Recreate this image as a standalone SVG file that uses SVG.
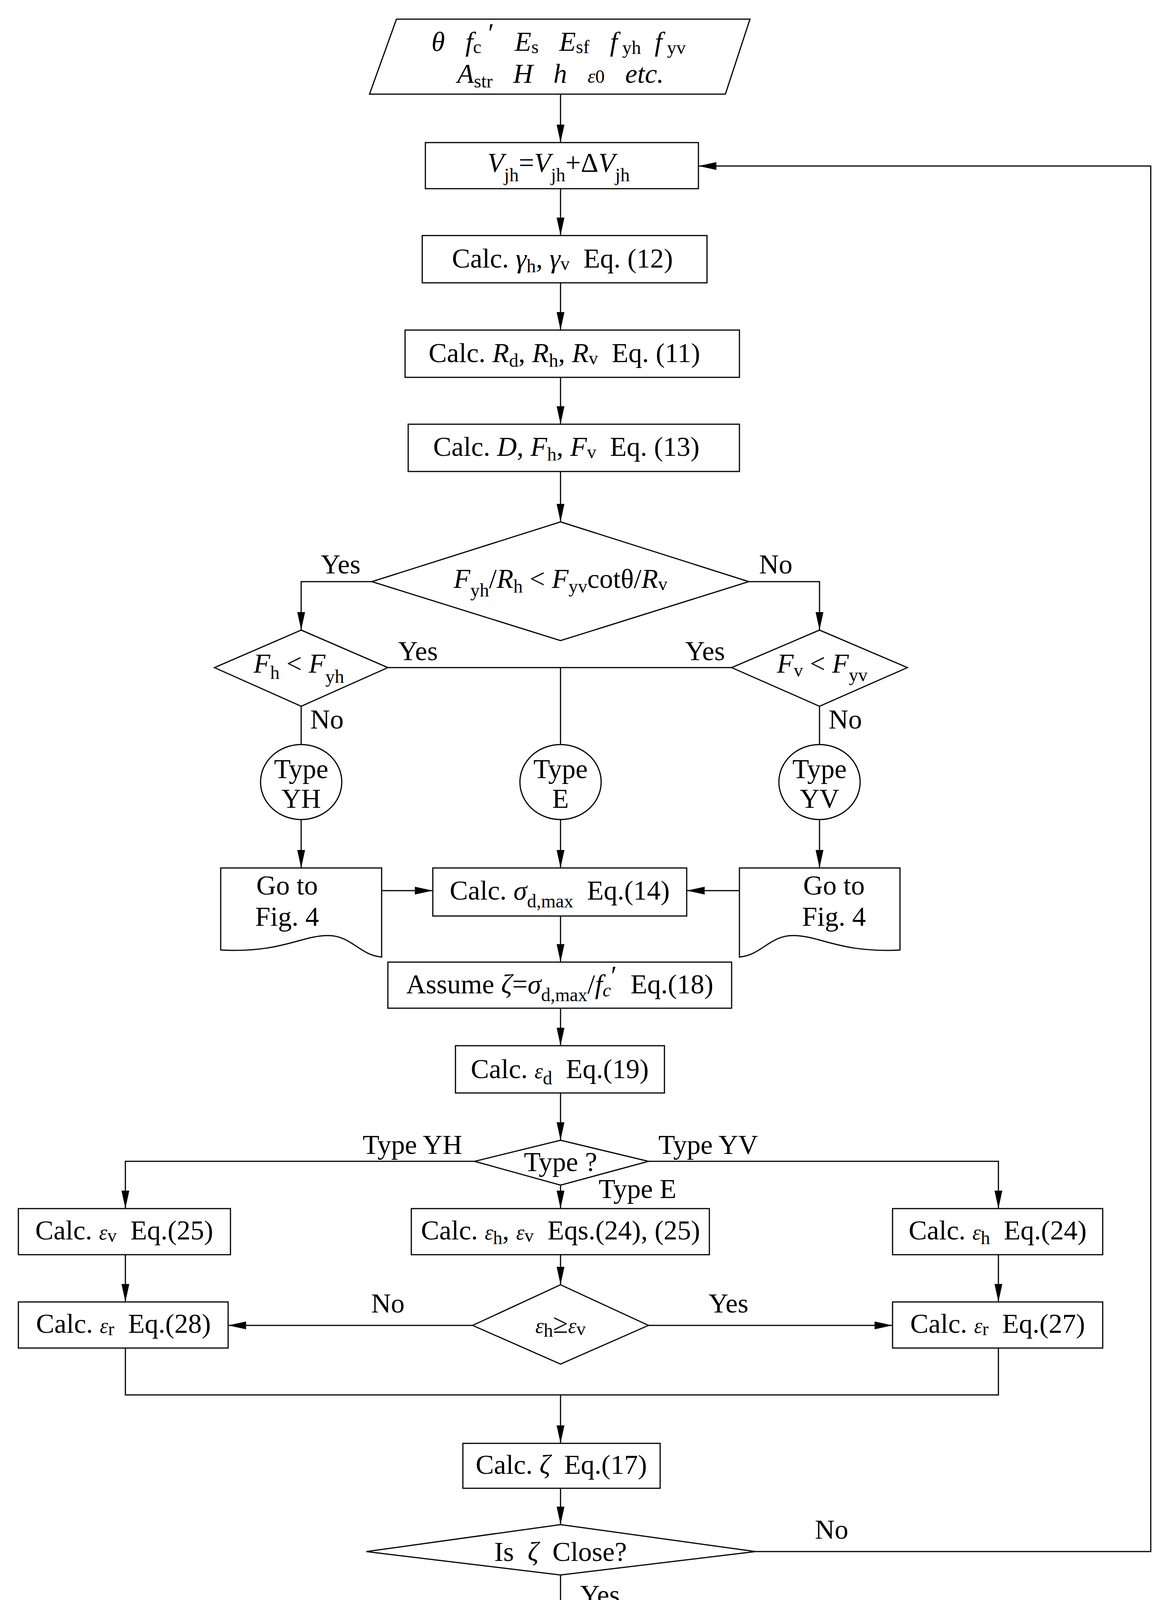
<svg xmlns="http://www.w3.org/2000/svg" width="2962" height="4271" viewBox="0 0 2962 4271" xml:space="preserve">
<style>
.n{fill:#fff;stroke:#000;stroke-width:3}
.c{fill:none;stroke:#000;stroke-width:3}
text{font-family:"Liberation Serif","Times New Roman",serif;font-size:70px;fill:#000;text-anchor:middle;white-space:pre}
.i{font-style:italic}
.s{font-size:48px}
</style>
<defs>
<marker id="h" markerUnits="userSpaceOnUse" markerWidth="46" markerHeight="20" viewBox="0 0 46 20" refX="46" refY="10" orient="auto"><path d="M0,0 L46,10 L0,20 Z"/></marker>
</defs>
<g id="connectors">
<path class="c" d="M1435,241 V365" marker-end="url(#h)"/>
<path class="c" d="M1435,483 V603" marker-end="url(#h)"/>
<path class="c" d="M1435,724 V845" marker-end="url(#h)"/>
<path class="c" d="M1435,966 V1086" marker-end="url(#h)"/>
<path class="c" d="M1435,1207 V1336" marker-end="url(#h)"/>
<path class="c" d="M952,1489 H771 V1613" marker-end="url(#h)"/>
<path class="c" d="M1917,1489 H2098 V1613" marker-end="url(#h)"/>
<path class="c" d="M993,1709 H1873"/>
<path class="c" d="M1435,1709 V1906"/>
<path class="c" d="M771,1808 V1906"/>
<path class="c" d="M2098,1808 V1906"/>
<path class="c" d="M771,2098 V2222" marker-end="url(#h)"/>
<path class="c" d="M1435,2098 V2222" marker-end="url(#h)"/>
<path class="c" d="M2098,2098 V2222" marker-end="url(#h)"/>
<path class="c" d="M977,2280 H1108" marker-end="url(#h)"/>
<path class="c" d="M1893,2280 H1758" marker-end="url(#h)"/>
<path class="c" d="M1435,2345 V2463" marker-end="url(#h)"/>
<path class="c" d="M1435,2581 V2677" marker-end="url(#h)"/>
<path class="c" d="M1435,2798 V2919" marker-end="url(#h)"/>
<path class="c" d="M1215,2973 H321 V3094" marker-end="url(#h)"/>
<path class="c" d="M1660,2973 H2556 V3094" marker-end="url(#h)"/>
<path class="c" d="M1435,3034 V3094" marker-end="url(#h)"/>
<path class="c" d="M1435,3212 V3289" marker-end="url(#h)"/>
<path class="c" d="M321,3212 V3333" marker-end="url(#h)"/>
<path class="c" d="M2556,3212 V3333" marker-end="url(#h)"/>
<path class="c" d="M1210,3393 H584" marker-end="url(#h)"/>
<path class="c" d="M1660,3393 H2285" marker-end="url(#h)"/>
<path class="c" d="M321,3451 V3571 H2556 V3451"/>
<path class="c" d="M1435,3571 V3695" marker-end="url(#h)"/>
<path class="c" d="M1435,3810 V3903" marker-end="url(#h)"/>
<path class="c" d="M1435,4032 V4147" marker-end="url(#h)"/>
<path class="c" d="M1934,3972 H2946 V425 H1788" marker-end="url(#h)"/>
<text x="872" y="1468">Yes</text>
<text x="1986" y="1468">No</text>
<text x="1070" y="1690">Yes</text>
<text x="1805" y="1690">Yes</text>
<text x="837" y="1865">No</text>
<text x="2164" y="1865">No</text>
<text x="1056" y="2954">Type YH</text>
<text x="1813" y="2954">Type YV</text>
<text x="1632" y="3067">Type E</text>
<text x="993" y="3360">No</text>
<text x="1865" y="3360">Yes</text>
<text x="2129" y="3939">No</text>
<text x="1536" y="4106">Yes</text>
</g>
<g id="input"><path class="n" d="M1015,49 H1920 L1857,241 H946 Z"/>
<text x="1430" y="130"><tspan class="i">θ</tspan>   <tspan class="i">f</tspan><tspan class="s" dy="6">c</tspan><tspan dy="-28"> ′</tspan>   <tspan class="i" dy="22">E</tspan><tspan class="s" dy="6">s</tspan>   <tspan class="i" dy="-6">E</tspan><tspan class="s" dy="6">sf</tspan>   <tspan class="i" dy="-6">f</tspan><tspan class="s" dy="8"> yh</tspan>  <tspan class="i" dy="-8">f</tspan><tspan class="s" dy="8"> yv</tspan></text>
<text x="1435" y="212"><tspan class="i">A</tspan><tspan class="s" dy="12">str</tspan>   <tspan class="i" dy="-12">H</tspan>   <tspan class="i">h</tspan>   <tspan class="i" font-size="50">ε</tspan><tspan class="s" font-size="32">0</tspan>   <tspan class="i">etc.</tspan></text></g>
<g id="vjh"><rect class="n" x="1089" y="365" width="699" height="118"/>
<text x="1430" y="440"><tspan class="i">V</tspan><tspan class="s" dy="24">jh</tspan><tspan dy="-24">=</tspan><tspan class="i">V</tspan><tspan class="s" dy="24">jh</tspan><tspan dy="-24">+Δ</tspan><tspan class="i">V</tspan><tspan class="s" dy="24">jh</tspan></text></g>
<g id="gamma"><rect class="n" x="1081" y="603" width="729" height="121"/>
<text x="1440" y="685">Calc. <tspan class="i">γ</tspan><tspan class="s" dy="12">h</tspan><tspan dy="-12">, </tspan><tspan class="i">γ</tspan><tspan class="s" dy="6">v</tspan><tspan dy="-6">  Eq. (12)</tspan></text></g>
<g id="rd"><rect class="n" x="1037" y="845" width="856" height="121"/>
<text x="1445" y="927">Calc. <tspan class="i">R</tspan><tspan class="s" dy="12">d</tspan><tspan dy="-12">, </tspan><tspan class="i">R</tspan><tspan class="s" dy="12">h</tspan><tspan dy="-12">, </tspan><tspan class="i">R</tspan><tspan class="s" dy="6">v</tspan><tspan dy="-6">  Eq. (11)</tspan></text></g>
<g id="dfh"><rect class="n" x="1045" y="1086" width="848" height="121"/>
<text x="1450" y="1167">Calc. <tspan class="i">D</tspan>, <tspan class="i">F</tspan><tspan class="s" dy="12">h</tspan><tspan dy="-12">, </tspan><tspan class="i">F</tspan><tspan class="s" dy="6">v</tspan><tspan dy="-6">  Eq. (13)</tspan></text></g>
<g id="d1"><path class="n" d="M1435,1336 L1917,1489 L1435,1640 L952,1489 Z"/>
<text x="1435" y="1505"><tspan class="i">F</tspan><tspan class="s" dy="22">yh</tspan><tspan dy="-22">/</tspan><tspan class="i">R</tspan><tspan class="s" dy="12">h</tspan><tspan dy="-12"> &lt; </tspan><tspan class="i">F</tspan><tspan class="s" dy="12">yv</tspan><tspan dy="-12">cotθ/</tspan><tspan class="i">R</tspan><tspan class="s" dy="6">v</tspan></text></g>
<g id="d2"><path class="n" d="M771,1613 L993,1709 L771,1808 L549,1709 Z"/>
<text x="765" y="1722"><tspan class="i">F</tspan><tspan class="s" dy="16">h</tspan><tspan dy="-16"> &lt; </tspan><tspan class="i">F</tspan><tspan class="s" dy="26">yh</tspan></text></g>
<g id="d3"><path class="n" d="M2098,1613 L2323,1709 L2098,1808 L1873,1709 Z"/>
<text x="2105" y="1722"><tspan class="i">F</tspan><tspan class="s" dy="10">v</tspan><tspan dy="-10"> &lt; </tspan><tspan class="i">F</tspan><tspan class="s" dy="22">yv</tspan></text></g>
<g id="tyh"><ellipse class="n" cx="771" cy="2002" rx="104" ry="96"/><text x="771" y="1992">Type</text><text x="771" y="2068">YH</text></g>
<g id="te"><ellipse class="n" cx="1435" cy="2002" rx="104" ry="96"/><text x="1435" y="1992">Type</text><text x="1435" y="2068">E</text></g>
<g id="tyv"><ellipse class="n" cx="2098" cy="2002" rx="104" ry="96"/><text x="2098" y="1992">Type</text><text x="2098" y="2068">YV</text></g>
<g id="doc1"><path class="n" d="M565,2222 H977 V2450 C920,2445 900,2395 840,2395 C770,2395 720,2440 565,2432 Z"/>
<text x="735" y="2290">Go to</text><text x="735" y="2370">Fig. 4</text></g>
<g id="doc2"><path class="n" d="M1893,2222 H2304 V2432 C2150,2440 2100,2395 2030,2395 C1970,2395 1950,2445 1893,2450 Z"/>
<text x="2135" y="2290">Go to</text><text x="2135" y="2370">Fig. 4</text></g>
<g id="sigma"><rect class="n" x="1108" y="2222" width="650" height="123"/>
<text x="1433" y="2303">Calc. <tspan class="i">σ</tspan><tspan class="s" dy="20">d,max</tspan><tspan dy="-20">  Eq.(14)</tspan></text></g>
<g id="assume"><rect class="n" x="993" y="2463" width="880" height="118"/>
<text x="1433" y="2543">Assume <tspan class="i">ζ</tspan>=<tspan class="i">σ</tspan><tspan class="s" dy="20">d,max</tspan><tspan dy="-20">/</tspan><tspan class="i">f</tspan><tspan class="s i" dy="8">c</tspan><tspan dy="-30">′</tspan><tspan dy="22">  Eq.(18)</tspan></text></g>
<g id="ed"><rect class="n" x="1166" y="2677" width="535" height="121"/>
<text x="1433" y="2760">Calc. <tspan class="i" font-size="54">ε</tspan><tspan class="s" dy="16">d</tspan><tspan dy="-16">  Eq.(19)</tspan></text></g>
<g id="dtype"><path class="n" d="M1435,2919 L1660,2973 L1435,3034 L1215,2973 Z"/>
<text x="1435" y="2998">Type ?</text></g>
<g id="ev"><rect class="n" x="47" y="3094" width="543" height="118"/>
<text x="318" y="3173">Calc. <tspan class="i" font-size="54">ε</tspan><tspan class="s" dy="6">v</tspan><tspan dy="-6">  Eq.(25)</tspan></text></g>
<g id="ehv"><rect class="n" x="1053" y="3094" width="763" height="118"/>
<text x="1435" y="3173">Calc. <tspan class="i" font-size="54">ε</tspan><tspan class="s" dy="12">h</tspan><tspan dy="-12">, </tspan><tspan class="i" font-size="54">ε</tspan><tspan class="s" dy="6">v</tspan><tspan dy="-6">  Eqs.(24), (25)</tspan></text></g>
<g id="eh"><rect class="n" x="2285" y="3094" width="538" height="118"/>
<text x="2554" y="3173">Calc. <tspan class="i" font-size="54">ε</tspan><tspan class="s" dy="12">h</tspan><tspan dy="-12">  Eq.(24)</tspan></text></g>
<g id="dcmp"><path class="n" d="M1435,3289 L1660,3393 L1435,3492 L1210,3393 Z"/>
<text x="1435" y="3412"><tspan class="i" font-size="54">ε</tspan><tspan class="s" dy="10">h</tspan><tspan dy="-10">≥</tspan><tspan class="i" font-size="54">ε</tspan><tspan class="s" dy="6">v</tspan></text></g>
<g id="er28"><rect class="n" x="47" y="3333" width="537" height="118"/>
<text x="316" y="3412">Calc. <tspan class="i" font-size="54">ε</tspan><tspan class="s" dy="6">r</tspan><tspan dy="-6">  Eq.(28)</tspan></text></g>
<g id="er27"><rect class="n" x="2285" y="3333" width="538" height="118"/>
<text x="2554" y="3412">Calc. <tspan class="i" font-size="54">ε</tspan><tspan class="s" dy="6">r</tspan><tspan dy="-6">  Eq.(27)</tspan></text></g>
<g id="zeta"><rect class="n" x="1185" y="3695" width="505" height="115"/>
<text x="1437" y="3773">Calc. <tspan class="i">ζ</tspan>  Eq.(17)</text></g>
<g id="dclose"><path class="n" d="M1435,3903 L1934,3972 L1435,4032 L938,3972 Z"/>
<text x="1435" y="3996">Is  <tspan class="i">ζ</tspan>  Close?</text></g>
<g id="end"><path class="n" d="M1340,4147 H1532 C1565,4175 1565,4232 1532,4260 H1340 C1307,4232 1307,4175 1340,4147 Z"/>
<text x="1436" y="4228">END</text></g>
</svg>
